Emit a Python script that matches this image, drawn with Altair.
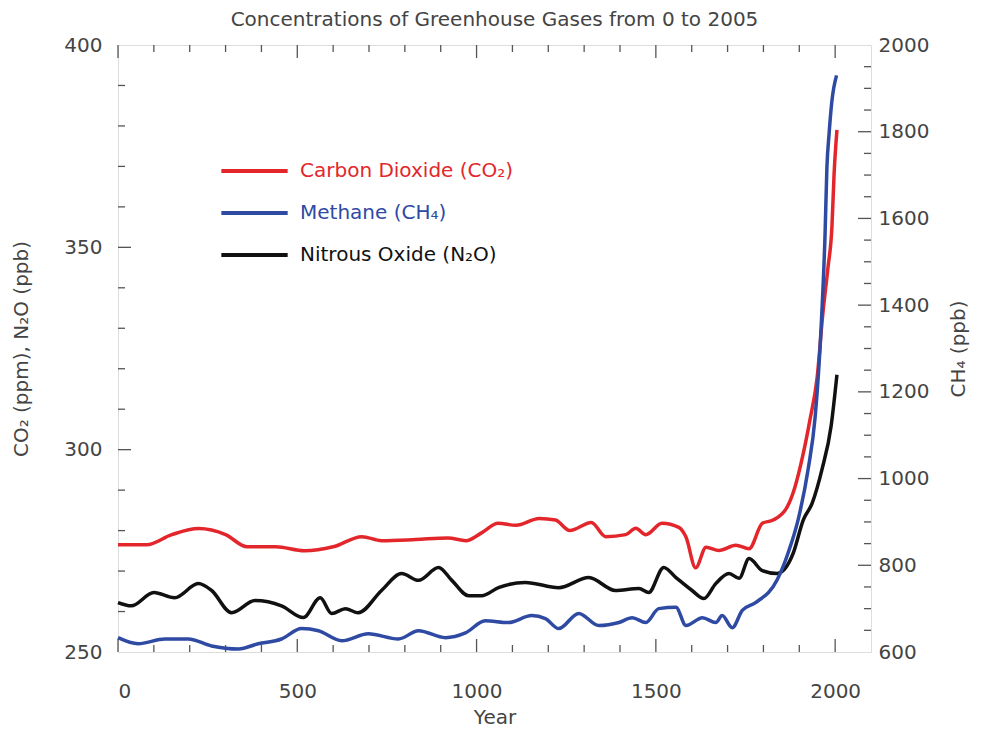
import altair as alt
import pandas as pd

# ---------------- data ----------------
co2_years = [0, 80, 150, 225, 300, 360, 440, 520, 600, 680, 735, 830, 920, 970, 1015,
             1060, 1110, 1175, 1220, 1260, 1320, 1360, 1416, 1444, 1472, 1517, 1564,
             1584, 1611, 1640, 1676, 1723, 1760, 1797, 1827, 1866, 1888, 1911, 1930,
             1950, 1965, 1980, 1991, 1997, 2005]
co2_values = [276.5, 276.5, 279.0, 280.5, 279.0, 276.0, 276.0, 275.0, 276.0, 278.5,
              277.5, 277.8, 278.2, 277.5, 279.5, 281.8, 281.3, 283.0, 282.6, 280.0,
              282.0, 278.5, 279.0, 280.6, 279.0, 281.8, 280.8, 278.4, 270.8, 275.9,
              275.1, 276.4, 275.5, 281.8, 282.6, 285.8, 290.8, 299.0, 307.5, 318.0,
              333.0, 345.0, 355.0, 368.0, 379.0]

n2o_years = [0, 37, 100, 158, 224, 261, 317, 382, 456, 517, 564, 596, 634, 670, 735,
             791, 838, 894, 931, 978, 1014, 1061, 1136, 1229, 1313, 1387, 1453, 1480,
             1522, 1556, 1601, 1634, 1667, 1704, 1732, 1760, 1797, 1838, 1883, 1911,
             1936, 1963, 1989, 2005]
n2o_values = [262.2, 261.4, 264.7, 263.4, 266.9, 265.2, 259.7, 262.7, 261.4, 258.5,
              263.4, 259.5, 260.7, 259.7, 265.2, 269.4, 267.7, 270.9, 267.7, 263.9,
              263.9, 265.9, 267.2, 265.9, 268.4, 265.2, 265.7, 264.7, 270.9, 268.4,
              265.2, 263.2, 266.9, 269.4, 268.2, 273.1, 270.1, 269.4, 274.4, 282.6,
              286.8, 295.0, 306.0, 318.5]

ch4_years = [0, 56, 131, 196, 261, 336, 391, 456, 512, 559, 624, 698, 782, 838, 913,
             969, 1024, 1089, 1154, 1192, 1229, 1285, 1341, 1397, 1434, 1472, 1508,
             1556, 1584, 1630, 1667, 1685, 1713, 1741, 1778, 1838, 1869, 1897, 1925,
             1944, 1961, 1972, 1977, 1983, 1991, 2004]
ch4_values = [633, 619, 630, 630, 614, 607, 619, 630, 654, 649, 626, 642, 630, 649, 633,
              644, 672, 668, 684, 677, 654, 689, 661, 668, 679, 668, 700, 703, 661, 679,
              668, 684, 656, 696, 714, 766, 829, 906, 1023, 1140, 1350, 1567, 1717,
              1794, 1871, 1930]

series_names = ["Carbon Dioxide (CO₂)", "Methane (CH₄)", "Nitrous Oxide (N₂O)"]
series_colors = ["#e3262b", "#2e4aa3", "#111111"]

x_major = [0, 500, 1000, 1500, 2000]
x_minor = [100, 200, 300, 400, 600, 700, 800, 900, 1100, 1200, 1300, 1400,
           1600, 1700, 1800, 1900]
yl_labels = [250, 300, 350, 400]
yl_major = [300, 350]
yl_minor = [260, 270, 280, 290, 310, 320, 330, 340, 360, 370, 380, 390]
yr_labels = [600, 800, 1000, 1200, 1400, 1600, 1800, 2000]
yr_major = [800, 1000, 1200, 1400, 1600, 1800]
yr_minor = [650, 700, 750, 850, 900, 950, 1050, 1100, 1150, 1250, 1300, 1350,
            1450, 1500, 1550, 1650, 1700, 1750, 1850, 1900, 1950]

# ---------------- tables ----------------
co2_df = pd.DataFrame({"year": co2_years, "value": co2_values, "series": series_names[0]})
n2o_df = pd.DataFrame({"year": n2o_years, "value": n2o_values, "series": series_names[2]})
ch4_df = pd.DataFrame({"year": ch4_years, "value": ch4_values, "series": series_names[1]})

W, H = 753, 607
FONT = "DejaVu Sans"
TXT = "#444444"
FRAME = "#555555"
MAJ, MIN = 13, 7

xscale = alt.Scale(domain=[0, 2100], nice=False, zero=False)
ylscale = alt.Scale(domain=[250, 400], nice=False, zero=False)
yrscale = alt.Scale(domain=[600, 2000], nice=False, zero=False)

color = alt.Color(
    "series:N",
    scale=alt.Scale(domain=series_names, range=series_colors),
    legend=alt.Legend(
        orient="none", legendX=101, legendY=116, title=None, padding=0,
        symbolType="stroke", symbolSize=4400, symbolStrokeWidth=4,
        labelFont=FONT, labelFontSize=20, labelOffset=10,
        clipHeight=20, rowPadding=22, labelLimit=500,
        labelColor=alt.ExprRef(expr="datum.index === 0 ? '#e3262b' : (datum.index === 1 ? '#2e4aa3' : '#111111')"),
    ),
)

x_axis = alt.Axis(values=x_major, format="d", domain=False, ticks=False, grid=False,
                  labelFont=FONT, labelFontSize=20, labelColor=TXT, labelPadding=29,
                  title="Year", titleFont=FONT, titleFontSize=20, titleFontWeight="normal",
                  titleColor=TXT, titlePadding=6)
yl_axis = alt.Axis(values=yl_labels, format="d", domain=False, ticks=False,
                   grid=False, labelFont=FONT, labelFontSize=20, labelColor=TXT,
                   labelPadding=16, title="CO₂ (ppm), N₂O (ppb)", titleFont=FONT,
                   titleFontSize=20, titleFontWeight="normal", titleColor=TXT,
                   titlePadding=32)
yr_axis = alt.Axis(orient="right", values=yr_labels, format="d", domain=False, ticks=False,
                   grid=False, labelFont=FONT, labelFontSize=20, labelColor=TXT,
                   labelPadding=7, title="CH₄ (ppb)", titleFont=FONT, titleFontSize=20,
                   titleFontWeight="normal", titleColor=TXT, titlePadding=40,
                   titleAngle=270)


def series_line(df, yscale, yaxis):
    return alt.Chart(df).mark_line(strokeWidth=3.5, interpolate="monotone").encode(
        x=alt.X("year:Q", scale=xscale, axis=x_axis),
        y=alt.Y("value:Q", scale=yscale, axis=yaxis),
        color=color,
    )


def xticks(vals, length, top):
    df = pd.DataFrame({"v": vals})
    if top:
        ya, yb = alt.value(0), alt.value(length)
    else:
        ya, yb = alt.value(H), alt.value(H - length)
    return alt.Chart(df).mark_rule(color=FRAME, strokeWidth=1.3).encode(
        x=alt.X("v:Q", scale=xscale, axis=x_axis), y=ya, y2=yb)


def yticks(vals, length, yscale, yaxis, right):
    df = pd.DataFrame({"v": vals})
    if right:
        xa, xb = alt.value(W), alt.value(W - length)
    else:
        xa, xb = alt.value(0), alt.value(length)
    return alt.Chart(df).mark_rule(color=FRAME, strokeWidth=1.3).encode(
        y=alt.Y("v:Q", scale=yscale, axis=yaxis), x=xa, x2=xb)


left = alt.layer(
    series_line(co2_df, ylscale, yl_axis),
    series_line(n2o_df, ylscale, yl_axis),
    yticks(yl_major, MAJ, ylscale, yl_axis, False),
    yticks(yl_minor, MIN, ylscale, yl_axis, False),
    xticks(x_major, MAJ, False),
    xticks(x_minor, MIN, False),
    xticks(x_major, MAJ, True),
    xticks(x_minor, MIN, True),
)
right = alt.layer(
    series_line(ch4_df, yrscale, yr_axis),
    yticks(yr_major, MAJ, yrscale, yr_axis, True),
    yticks(yr_minor, MIN, yrscale, yr_axis, True),
)

chart = alt.layer(left, right).resolve_scale(y="independent").properties(
    width=W, height=H,
    title=alt.TitleParams("Concentrations of Greenhouse Gases from 0 to 2005",
                          font=FONT, fontSize=20, fontWeight="normal", color=TXT,
                          anchor="middle", offset=5),
    autosize=alt.AutoSizeParams(type="none"),
    padding={"left": 110, "top": 37, "right": 100, "bottom": 78},
).configure_view(stroke=FRAME, strokeWidth=1.5).configure(background="white")

chart.save("out.html", embed_options={"renderer": "svg", "actions": False})
